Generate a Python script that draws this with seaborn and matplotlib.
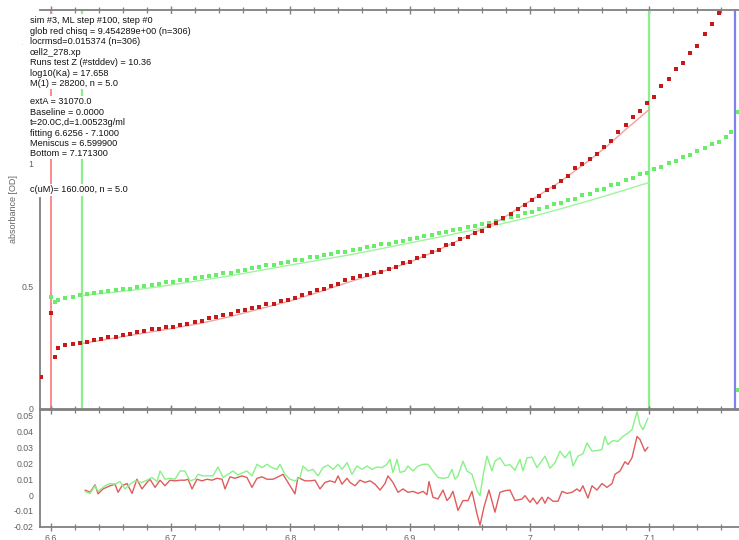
import matplotlib
matplotlib.use("Agg")
import numpy as np
import pandas as pd
import seaborn as sns
import matplotlib.pyplot as plt
from matplotlib.patches import Rectangle
from matplotlib.ticker import MultipleLocator, FixedLocator, FuncFormatter

# ---------------- data ----------------
scan_radius = [6.606, 6.612, 6.618, 6.624, 6.630, 6.636, 6.642, 6.648, 6.654, 6.660,
               6.666, 6.672, 6.678, 6.684, 6.690, 6.696, 6.702, 6.708, 6.714, 6.720,
               6.726, 6.732, 6.738, 6.744, 6.750, 6.756, 6.762, 6.768, 6.774, 6.780,
               6.786, 6.792, 6.798, 6.804, 6.810, 6.816, 6.822, 6.828, 6.834, 6.840,
               6.846, 6.852, 6.858, 6.864, 6.870, 6.876, 6.882, 6.888, 6.894, 6.900,
               6.906, 6.912, 6.918, 6.924, 6.930, 6.936, 6.942, 6.948, 6.954, 6.960,
               6.966, 6.972, 6.978, 6.984, 6.990, 6.996, 7.002, 7.008, 7.014, 7.020,
               7.026, 7.032, 7.038, 7.044, 7.050, 7.056, 7.062, 7.068, 7.074, 7.080,
               7.086, 7.092, 7.098, 7.104, 7.110, 7.116, 7.122, 7.128, 7.134, 7.140,
               7.146, 7.152, 7.158, 7.164]
red_scan = [0.246, 0.258, 0.262, 0.268, 0.270, 0.279, 0.281, 0.289, 0.292, 0.300,
            0.302, 0.312, 0.315, 0.324, 0.325, 0.333, 0.334, 0.342, 0.344, 0.352,
            0.356, 0.367, 0.371, 0.380, 0.384, 0.396, 0.400, 0.411, 0.415, 0.425,
            0.428, 0.438, 0.443, 0.452, 0.464, 0.470, 0.482, 0.489, 0.502, 0.510,
            0.524, 0.531, 0.542, 0.545, 0.555, 0.559, 0.570, 0.578, 0.593, 0.600,
            0.616, 0.625, 0.641, 0.649, 0.666, 0.674, 0.692, 0.701, 0.718, 0.726,
            0.745, 0.758, 0.780, 0.794, 0.817, 0.831, 0.854, 0.870, 0.892, 0.907,
            0.931, 0.952, 0.984, 0.999, 1.022, 1.040, 1.071, 1.093, 1.130, 1.158,
            1.191, 1.219, 1.248, 1.275, 1.320, 1.350, 1.389, 1.415, 1.456, 1.483,
            1.531, 1.572, 1.618, 1.660]
green_scan = [0.441, 0.452, 0.455, 0.465, 0.466, 0.473, 0.474, 0.481, 0.482, 0.488,
              0.489, 0.497, 0.498, 0.506, 0.507, 0.515, 0.516, 0.524, 0.526, 0.534,
              0.536, 0.543, 0.545, 0.553, 0.555, 0.563, 0.566, 0.574, 0.576, 0.585,
              0.587, 0.596, 0.598, 0.606, 0.608, 0.617, 0.619, 0.627, 0.630, 0.638,
              0.641, 0.649, 0.651, 0.660, 0.662, 0.671, 0.673, 0.682, 0.685, 0.694,
              0.697, 0.705, 0.708, 0.717, 0.720, 0.729, 0.732, 0.742, 0.745, 0.755,
              0.758, 0.768, 0.773, 0.783, 0.788, 0.799, 0.805, 0.817, 0.822, 0.834,
              0.839, 0.851, 0.857, 0.871, 0.878, 0.892, 0.899, 0.913, 0.919, 0.934,
              0.942, 0.958, 0.965, 0.981, 0.989, 1.005, 1.013, 1.029, 1.038, 1.055,
              1.064, 1.082, 1.091, 1.109]
red_edge_r = [6.5916, 6.6000, 6.6033]
red_edge_v = [0.128, 0.390, 0.210]
green_edge_r = [6.6000, 6.6033, 7.1680, 7.1742, 7.1740]
green_edge_v = [0.455, 0.434, 1.131, 1.213, 0.075]

fit_radius = [6.6256, 6.65, 6.675, 6.70, 6.725, 6.75, 6.775, 6.80, 6.825, 6.85, 6.875,
              6.90, 6.925, 6.95, 6.975, 7.00, 7.025, 7.05, 7.065, 7.08, 7.09, 7.10]
red_fit = [0.264, 0.284, 0.305, 0.325, 0.347, 0.375, 0.407, 0.439, 0.477, 0.518, 0.556,
           0.598, 0.651, 0.709, 0.770, 0.848, 0.926, 1.016, 1.075, 1.141, 1.182, 1.224]
green_fit = [0.461, 0.473, 0.487, 0.504, 0.523, 0.542, 0.564, 0.586, 0.607, 0.628, 0.652,
             0.677, 0.701, 0.727, 0.753, 0.782, 0.815, 0.850, 0.872, 0.894, 0.910, 0.924]

red_res_r = [6.6284, 6.6326, 6.6368, 6.6393, 6.6434, 6.6493, 6.6535, 6.6560, 6.6593, 6.6635,
             6.6677, 6.6718, 6.6760, 6.6802, 6.6827, 6.6869, 6.6911, 6.6952, 6.6994, 6.7036,
             6.7078, 6.7119, 6.7145, 6.7178, 6.7220, 6.7261, 6.7303, 6.7345, 6.7387, 6.7429,
             6.7454, 6.7495, 6.7537, 6.7596, 6.7637, 6.7679, 6.7721, 6.7763, 6.7805, 6.7855,
             6.7913, 6.7938, 6.7997, 6.8038, 6.8063, 6.8122, 6.8164, 6.8206, 6.8247, 6.8289,
             6.8331, 6.8373, 6.8398, 6.8431, 6.8473, 6.8498, 6.8540, 6.8581, 6.8623, 6.8665,
             6.8707, 6.8749, 6.8790, 6.8815, 6.8857, 6.8899, 6.8941, 6.8982, 6.9024, 6.9066,
             6.9108, 6.9141, 6.9158, 6.9191, 6.9233, 6.9275, 6.9308, 6.9333, 6.9358, 6.9400,
             6.9442, 6.9484, 6.9517, 6.9559, 6.9584, 6.9617, 6.9659, 6.9709, 6.9751, 6.9793,
             6.9835, 6.9876, 6.9935, 6.9960, 7.0002, 7.0027, 7.0060, 7.0102, 7.0127, 7.0152,
             7.0194, 7.0236, 7.0269, 7.0311, 7.0353, 7.0394, 7.0419, 7.0444, 7.0486, 7.0520,
             7.0561, 7.0603, 7.0645, 7.0687, 7.0712, 7.0754, 7.0795, 7.0820, 7.0854, 7.0896,
             7.0921, 7.0962, 7.0987]
red_res = [0.0031, 0.0017, 0.0064, 0.0007, 0.0038, 0.0058, 0.0068, 0.0017, 0.0058, 0.0072,
           0.0010, 0.0099, 0.0038, 0.0079, 0.0099, 0.0048, 0.0093, 0.0058, 0.0093, 0.0089,
           0.0093, 0.0093, 0.0099, 0.0038, 0.0099, 0.0089, 0.0099, 0.0093, 0.0105, 0.0099,
           0.0038, 0.0114, 0.0105, 0.0120, 0.0110, 0.0048, 0.0105, 0.0114, 0.0099, 0.0099,
           0.0120, 0.0130, 0.0058, 0.0007, 0.0110, 0.0089, 0.0089, 0.0093, 0.0038, 0.0079,
           0.0089, 0.0079, 0.0120, 0.0068, 0.0105, 0.0079, 0.0058, 0.0093, 0.0079, 0.0089,
           0.0068, 0.0031, 0.0072, 0.0120, 0.0079, 0.0017, 0.0038, 0.0017, 0.0023, 0.0010,
           0.0023, 0.0002, 0.0085, -0.0014, -0.0025, 0.0031, -0.0035, -0.0014, 0.0023, -0.0097,
           -0.0035, -0.0035, 0.0023, -0.0118, -0.0190, -0.0077, 0.0031, -0.0108, 0.0017, 0.0027,
           0.0031, -0.0035, -0.0025, -0.0004, -0.0046, -0.0019, -0.0056, -0.0014, -0.0052, -0.0014,
           -0.0039, -0.0039, 0.0023, 0.0010, 0.0017, 0.0038, 0.0023, 0.0058, -0.0019, 0.0058,
           0.0031, 0.0072, 0.0048, 0.0072, 0.0130, 0.0151, 0.0209, 0.0192, 0.0234, 0.0368,
           0.0348, 0.0275, 0.0300]
green_res_r = [6.6284, 6.6326, 6.6368, 6.6393, 6.6451, 6.6493, 6.6535, 6.6576, 6.6618, 6.6660,
               6.6702, 6.6760, 6.6802, 6.6844, 6.6886, 6.6911, 6.6952, 6.6994, 6.7036, 6.7078,
               6.7119, 6.7161, 6.7203, 6.7228, 6.7270, 6.7312, 6.7353, 6.7395, 6.7437, 6.7479,
               6.7520, 6.7562, 6.7604, 6.7637, 6.7679, 6.7721, 6.7763, 6.7805, 6.7846, 6.7888,
               6.7913, 6.7955, 6.7997, 6.8038, 6.8080, 6.8105, 6.8147, 6.8189, 6.8231, 6.8272,
               6.8314, 6.8356, 6.8398, 6.8431, 6.8473, 6.8515, 6.8556, 6.8598, 6.8640, 6.8682,
               6.8724, 6.8765, 6.8807, 6.8832, 6.8857, 6.8891, 6.8916, 6.8957, 6.8982, 6.9024,
               6.9066, 6.9108, 6.9150, 6.9191, 6.9233, 6.9275, 6.9317, 6.9350, 6.9375, 6.9400,
               6.9442, 6.9475, 6.9517, 6.9559, 6.9584, 6.9609, 6.9642, 6.9684, 6.9709, 6.9751,
               6.9793, 6.9835, 6.9876, 6.9918, 6.9943, 6.9977, 7.0018, 7.0060, 7.0102, 7.0127,
               7.0169, 7.0211, 7.0252, 7.0294, 7.0336, 7.0361, 7.0403, 7.0444, 7.0478, 7.0520,
               7.0561, 7.0603, 7.0628, 7.0653, 7.0695, 7.0737, 7.0779, 7.0820, 7.0854, 7.0896,
               7.0921, 7.0946, 7.0987]
green_res = [0.0023, 0.0010, 0.0058, 0.0023, 0.0058, 0.0072, 0.0068, 0.0085, 0.0038, 0.0068,
             0.0089, 0.0079, 0.0093, 0.0110, 0.0085, 0.0151, 0.0099, 0.0105, 0.0099, 0.0151,
             0.0151, 0.0089, 0.0099, 0.0130, 0.0120, 0.0120, 0.0120, 0.0176, 0.0110, 0.0130,
             0.0151, 0.0126, 0.0141, 0.0151, 0.0120, 0.0193, 0.0172, 0.0193, 0.0172, 0.0161,
             0.0193, 0.0130, 0.0099, 0.0089, 0.0110, 0.0182, 0.0151, 0.0161, 0.0120, 0.0172,
             0.0188, 0.0161, 0.0193, 0.0161, 0.0203, 0.0130, 0.0182, 0.0161, 0.0182, 0.0161,
             0.0176, 0.0172, 0.0193, 0.0224, 0.0141, 0.0224, 0.0141, 0.0151, 0.0182, 0.0151,
             0.0182, 0.0193, 0.0193, 0.0151, 0.0110, 0.0105, 0.0110, 0.0161, 0.0099, 0.0120,
             0.0213, 0.0151, 0.0130, 0.0027, -0.0004, 0.0120, 0.0244, 0.0151, 0.0213, 0.0234,
             0.0185, 0.0190, 0.0155, 0.0224, 0.0151, 0.0234, 0.0238, 0.0172, 0.0217, 0.0244,
             0.0168, 0.0203, 0.0275, 0.0234, 0.0275, 0.0182, 0.0244, 0.0259, 0.0327, 0.0275,
             0.0279, 0.0286, 0.0368, 0.0317, 0.0342, 0.0337, 0.0368, 0.0389, 0.0410, 0.0524,
             0.0441, 0.0410, 0.0482]

meniscus = 6.5999
fit_limits = [6.6256, 7.1000]
bottom = 7.1713

info_block1 = ["sim #3, ML step #100, step #0",
               "glob red chisq = 9.454289e+00 (n=306)",
               "locrmsd=0.015374 (n=306)",
               "cell2_278.xp",
               "Runs test Z (#stddev) = 10.36",
               "log10(Ka) = 17.658",
               "M(1) = 28200, n = 5.0"]
info_block2 = ["extA = 31070.0",
               "Baseline = 0.0000",
               "t=20.0C,d=1.00523g/ml",
               "fitting 6.6256 - 7.1000",
               "Meniscus = 6.599900",
               "Bottom = 7.171300"]
info_block3 = ["c(uM)= 160.000, n = 5.0"]

# ---------------- style ----------------
sns.set_theme(style="white")
plt.rcParams["font.family"] = ["Liberation Sans", "DejaVu Sans"]

W, H = 739, 540
fig = plt.figure(figsize=(W / 100, H / 100), dpi=100)
fig.patch.set_facecolor("white")

def fx(px):
    return px / W

def fy(py):
    return 1 - py / H

ax1 = fig.add_axes([fx(40), fy(409), fx(739) - fx(40), fy(10) - fy(409)])
ax2 = fig.add_axes([fx(40), fy(527), fx(739) - fx(40), fy(410) - fy(527)])

XMIN, XMAX = 6.5908, 7.1748
GREY = "#808080"
LBL = "#606060"

# vertical marker lines (upper panel)
ax1.axvline(meniscus, color="#ff8a8a", lw=1.4, zorder=1)
for xv in fit_limits:
    ax1.axvline(xv, color="#8cef8c", lw=1.6, zorder=1)
ax1.axvline(bottom, color="#8080f0", lw=1.6, zorder=1)

# fitted curves
sns.lineplot(x=fit_radius, y=red_fit, ax=ax1, color="#f2a0a0", lw=1.0,
             estimator=None, sort=False, legend=False, zorder=2)
sns.lineplot(x=fit_radius, y=green_fit, ax=ax1, color="#9ff59f", lw=1.0,
             estimator=None, sort=False, legend=False, zorder=2)

# scan points
MS = 5.5
df_scan = pd.DataFrame({"r": scan_radius, "red": red_scan, "green": green_scan})
sns.scatterplot(data=df_scan, x="r", y="green", ax=ax1, color="#6aec6a", s=MS,
                marker="s", linewidth=0, legend=False, zorder=3)
sns.scatterplot(x=green_edge_r, y=green_edge_v, ax=ax1, color="#6aec6a", s=MS,
                marker="s", linewidth=0, legend=False, zorder=3)
sns.scatterplot(data=df_scan, x="r", y="red", ax=ax1, color="#c41a1a", s=MS,
                marker="s", linewidth=0, legend=False, zorder=3)
sns.scatterplot(x=red_edge_r, y=red_edge_v, ax=ax1, color="#c41a1a", s=MS,
                marker="s", linewidth=0, legend=False, zorder=3)

# residuals
sns.lineplot(x=red_res_r, y=red_res, ax=ax2, color="#e05c5c", lw=1.0,
             estimator=None, sort=False, legend=False)
sns.lineplot(x=green_res_r, y=green_res, ax=ax2, color="#88f288", lw=1.0,
             estimator=None, sort=False, legend=False)

# ---------------- axes cosmetics ----------------
for ax in (ax1, ax2):
    ax.set_xlim(XMIN, XMAX)
    ax.set_facecolor("white")
    ax.grid(False)
    ax.set_xlabel("")
    ax.set_ylabel("")
    ax.spines["right"].set_visible(False)
    for s in ("left", "top", "bottom"):
        ax.spines[s].set_color(GREY)
        ax.spines[s].set_linewidth(1.3)
    ax.xaxis.set_major_locator(MultipleLocator(0.1))
    ax.xaxis.set_minor_locator(MultipleLocator(0.02))
    ax.tick_params(axis="both", which="major", direction="inout", length=6,
                   width=1.0, color=GREY, labelsize=6.3, labelcolor=LBL, pad=1.5)
    ax.tick_params(axis="both", which="minor", direction="inout", length=4,
                   width=0.9, color=GREY)

ax1.set_ylim(-0.004, 1.631)
ax1.yaxis.set_major_locator(FixedLocator([0, 0.5, 1.0, 1.5]))
ax1.yaxis.set_minor_locator(FixedLocator([0.1, 0.2, 0.3, 0.4, 0.6, 0.7, 0.8]))
ax1.yaxis.set_major_formatter(FuncFormatter(lambda v, _: f"{v:g}"))
ax1.spines["left"].set_bounds(-0.004, 0.86)
ax1.tick_params(axis="x", which="both", top=True, bottom=True,
                labeltop=False, labelbottom=False)

ax2.set_ylim(-0.0201, 0.0534)
ax2.yaxis.set_major_locator(MultipleLocator(0.01))
ax2.yaxis.set_minor_locator(MultipleLocator(0.002))
ax2.yaxis.set_major_formatter(FuncFormatter(
    lambda v, _: "0" if abs(v) < 1e-9 else f"{v:.2f}"))
ax2.xaxis.set_major_formatter(FuncFormatter(lambda v, _: f"{v:g}"))
ax2.tick_params(axis="x", which="both", top=True, bottom=True,
                labeltop=False, labelbottom=True)
ax2.tick_params(axis="x", which="major", pad=2)

# hide tick marks above the drawn part of the left spine
fig.canvas.draw()
for tk in ax1.yaxis.get_major_ticks():
    if tk.get_loc() > 0.9:
        tk.tick1line.set_visible(False)
        tk.tick2line.set_visible(False)

# ---------------- text blocks with white backgrounds ----------------
def white_box(x0, y0, x1, y1):
    fig.add_artist(Rectangle((fx(x0), fy(y1)), fx(x1) - fx(x0), fy(y0) - fy(y1),
                             transform=fig.transFigure, facecolor="white",
                             edgecolor="none", zorder=5))

white_box(23, 14, 196, 89)
white_box(23, 96, 142, 159)
white_box(23, 184, 166, 196)

def put_lines(lines, y_first, step):
    for i, t in enumerate(lines):
        fig.text(fx(30), fy(y_first + i * step), t, fontsize=6.6, color="#111111",
                 ha="left", va="center", zorder=6)

put_lines(info_block1, 20.7, 10.55)
put_lines(info_block2, 101.7, 10.46)
put_lines(info_block3, 190.0, 10.5)

fig.text(fx(14), fy(209), "absorbance [OD]", rotation=90, fontsize=6.5,
         color="#666666", ha="center", va="center")

fig.savefig("out.png", dpi=100, facecolor="white")
